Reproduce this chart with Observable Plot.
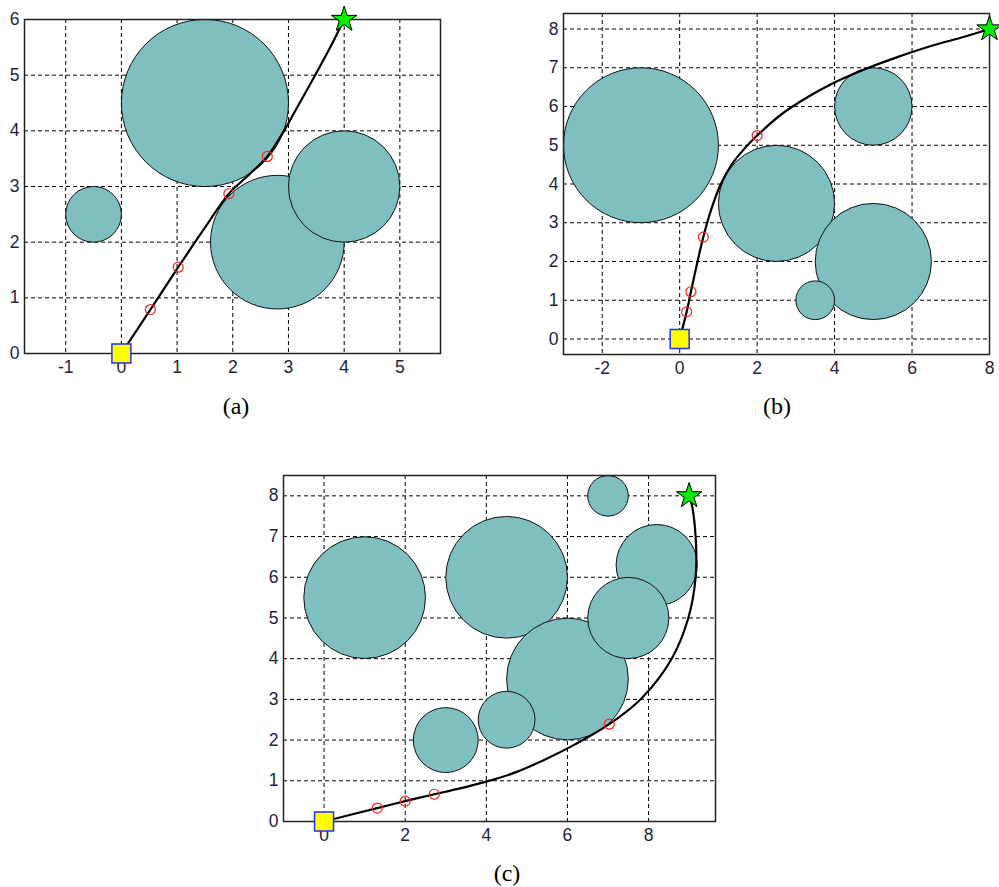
<!DOCTYPE html>
<html>
<head>
<meta charset="utf-8">
<script src="https://cdn.jsdelivr.net/npm/d3@7"></script>
<script src="https://cdn.jsdelivr.net/npm/@observablehq/plot@0.6"></script>
<style>
  html, body { margin: 0; padding: 0; background: #fff; }
  #root { position: relative; width: 999px; height: 887px; overflow: hidden; background: #fff; }
  .panel { position: absolute; }
  #root svg text { font-size: 17.5px; font-family: "Liberation Sans", Arial, sans-serif; }
  .cap { position: absolute; font-family: "Liberation Serif", "Times New Roman", serif; font-size: 24px; color: #000; transform: translate(-50%, -50%); white-space: nowrap; }
</style>
</head>
<body>
<div id="root"></div>
<script>
// ---------- Data ----------
// Panel (a)
const aXTicks = [-1, 0, 1, 2, 3, 4, 5];
const aYTicks = [0, 1, 2, 3, 4, 5, 6];
const aObstacles = [
  {x: 1.5, y: 4.5, r: 1.5},
  {x: -0.5, y: 2.5, r: 0.5},
  {x: 2.8, y: 2.0, r: 1.2},
  {x: 4.0, y: 3.0, r: 1.0}
];
const aPath = [
  {x: 0, y: 0}, {x: 0.52, y: 0.79}, {x: 1.02, y: 1.55}, {x: 1.5, y: 2.26},
  {x: 1.93, y: 2.87}, {x: 2.3, y: 3.22}, {x: 2.62, y: 3.54}, {x: 2.92, y: 4.0},
  {x: 3.2, y: 4.5}, {x: 3.48, y: 5.0}, {x: 3.75, y: 5.5}, {x: 4, y: 6}
];
const aWaypoints = [
  {x: 0.52, y: 0.79}, {x: 1.02, y: 1.55}, {x: 1.93, y: 2.87}, {x: 2.62, y: 3.54}
];
const aStart = [{x: 0, y: 0}];
const aGoal = [{x: 4, y: 6}];

// Panel (b)
const bXTicks = [-2, 0, 2, 4, 6, 8];
const bYTicks = [0, 1, 2, 3, 4, 5, 6, 7, 8];
const bObstacles = [
  {x: -1, y: 5, r: 2},
  {x: 2.5, y: 3.5, r: 1.5},
  {x: 5, y: 6, r: 1},
  {x: 5, y: 2, r: 1.5},
  {x: 3.5, y: 1, r: 0.5}
];
const bPath = [
  {x: 0, y: 0}, {x: 0.18, y: 0.7}, {x: 0.29, y: 1.22}, {x: 0.45, y: 1.95},
  {x: 0.61, y: 2.63}, {x: 0.8, y: 3.3}, {x: 1.04, y: 3.95}, {x: 1.34, y: 4.5},
  {x: 1.68, y: 4.92}, {x: 2.0, y: 5.25}, {x: 2.63, y: 5.8}, {x: 3.32, y: 6.25},
  {x: 3.92, y: 6.58}, {x: 4.78, y: 6.96}, {x: 5.64, y: 7.28}, {x: 6.49, y: 7.56},
  {x: 7.35, y: 7.8}, {x: 8, y: 8}
];
const bWaypoints = [
  {x: 0.18, y: 0.7}, {x: 0.29, y: 1.22}, {x: 0.61, y: 2.63}, {x: 2.0, y: 5.25}
];
const bStart = [{x: 0, y: 0}];
const bGoal = [{x: 8, y: 8}];

// Panel (c)
const cXTicks = [0, 2, 4, 6, 8];
const cYTicks = [0, 1, 2, 3, 4, 5, 6, 7, 8];
const cObstacles = [
  {x: 1, y: 5.5, r: 1.5},
  {x: 4.5, y: 6, r: 1.5},
  {x: 7, y: 8, r: 0.5},
  {x: 8.2, y: 6.3, r: 1},
  {x: 7.5, y: 5, r: 1},
  {x: 6, y: 3.5, r: 1.5},
  {x: 4.5, y: 2.5, r: 0.7},
  {x: 3, y: 2, r: 0.8}
];
const cPath = [
  {x: 0, y: 0}, {x: 1.31, y: 0.33}, {x: 2.0, y: 0.5}, {x: 2.72, y: 0.67},
  {x: 3.3, y: 0.8}, {x: 4.0, y: 0.98}, {x: 4.7, y: 1.2}, {x: 5.4, y: 1.5},
  {x: 6.2, y: 1.9}, {x: 7.03, y: 2.39}, {x: 7.83, y: 3.03}, {x: 8.57, y: 4.0},
  {x: 8.98, y: 5.0}, {x: 9.16, y: 6.0}, {x: 9.16, y: 7.0}, {x: 9.04, y: 7.9},
  {x: 9, y: 8}
];
const cWaypoints = [
  {x: 1.31, y: 0.33}, {x: 2.0, y: 0.5}, {x: 2.72, y: 0.67}, {x: 7.03, y: 2.39}
];
const cStart = [{x: 0, y: 0}];
const cGoal = [{x: 9, y: 8}];

const captions = ["(a)", "(b)", "(c)"];

// ---------- Drawing ----------
function panel(cfg) {
  const innerW = cfg.width - cfg.ml - cfg.mr;
  const unit = innerW / (cfg.xDomain[1] - cfg.xDomain[0]);
  return Plot.plot({
    width: cfg.width,
    height: cfg.height,
    marginLeft: cfg.ml,
    marginRight: cfg.mr,
    marginTop: cfg.mt,
    marginBottom: cfg.mb,
    style: {
      fontSize: "17.5px",
      fontFamily: "'Liberation Sans', Arial, sans-serif",
      color: "#1e1e3a",
      background: "transparent",
      overflow: "visible"
    },
    x: {domain: cfg.xDomain, ticks: cfg.xTicks, tickSize: 0, tickPadding: 7, tickFormat: d => String(d), label: null},
    y: {domain: cfg.yDomain, ticks: cfg.yTicks, tickSize: 0, tickPadding: 5, tickFormat: d => String(d), label: null},
    r: {type: "linear", domain: [0, 1], range: [0, unit]},
    marks: [
      Plot.ruleX(cfg.xTicks, {stroke: "#000", strokeWidth: 1, strokeDasharray: "4,3"}),
      Plot.ruleY(cfg.yTicks, {stroke: "#000", strokeWidth: 1, strokeDasharray: "4,3"}),
      Plot.dot(cfg.obstacles, {x: "x", y: "y", r: "r", fill: "#80bfbf", stroke: "#111", strokeWidth: 1, clip: true}),
      Plot.line(cfg.path, {x: "x", y: "y", stroke: "#000", strokeWidth: 2.2, curve: "catmull-rom"}),
      Plot.dot(cfg.waypoints, {x: "x", y: "y", r: 5, stroke: "#ff2020", strokeWidth: 1.2, fill: "none"}),
      Plot.frame({stroke: "#222", strokeWidth: 1.5}),
      Plot.dot(cfg.start, {x: "x", y: "y", symbol: "square", r: 10.7, fill: "#ffff00", stroke: "#2030ff", strokeWidth: 1.5}),
      Plot.dot(cfg.goal, {x: "x", y: "y", symbol: "star", r: 8, fill: "#00ee00", stroke: "#000", strokeWidth: 1})
    ]
  });
}

const root = document.getElementById("root");
function place(node, left, top) {
  node.classList.add("panel");
  node.style.left = left + "px";
  node.style.top = top + "px";
  root.appendChild(node);
}

place(panel({
  width: 450, height: 390, ml: 24, mr: 10, mt: 19, mb: 37,
  xDomain: [-1.74, 5.73], yDomain: [0, 6], xTicks: aXTicks, yTicks: aYTicks,
  obstacles: aObstacles, path: aPath, waypoints: aWaypoints, start: aStart, goal: aGoal
}), 0, 0);

place(panel({
  width: 469, height: 390, ml: 33, mr: 10, mt: 13, mb: 36,
  xDomain: [-3, 8], yDomain: [-0.4, 8.4], xTicks: bXTicks, yTicks: bYTicks,
  obstacles: bObstacles, path: bPath, waypoints: bWaypoints, start: bStart, goal: bGoal
}), 530, 0);

place(panel({
  width: 490, height: 400, ml: 43, mr: 15, mt: 15, mb: 39,
  xDomain: [-1, 9.65], yDomain: [0, 8.5], xTicks: cXTicks, yTicks: cYTicks,
  obstacles: cObstacles, path: cPath, waypoints: cWaypoints, start: cStart, goal: cGoal
}), 240, 460);

const capPos = [[236, 406], [777, 406], [507, 873]];
captions.forEach((t, i) => {
  const d = document.createElement("div");
  d.className = "cap";
  d.textContent = t;
  d.style.left = capPos[i][0] + "px";
  d.style.top = capPos[i][1] + "px";
  root.appendChild(d);
});
</script>
</body>
</html>
